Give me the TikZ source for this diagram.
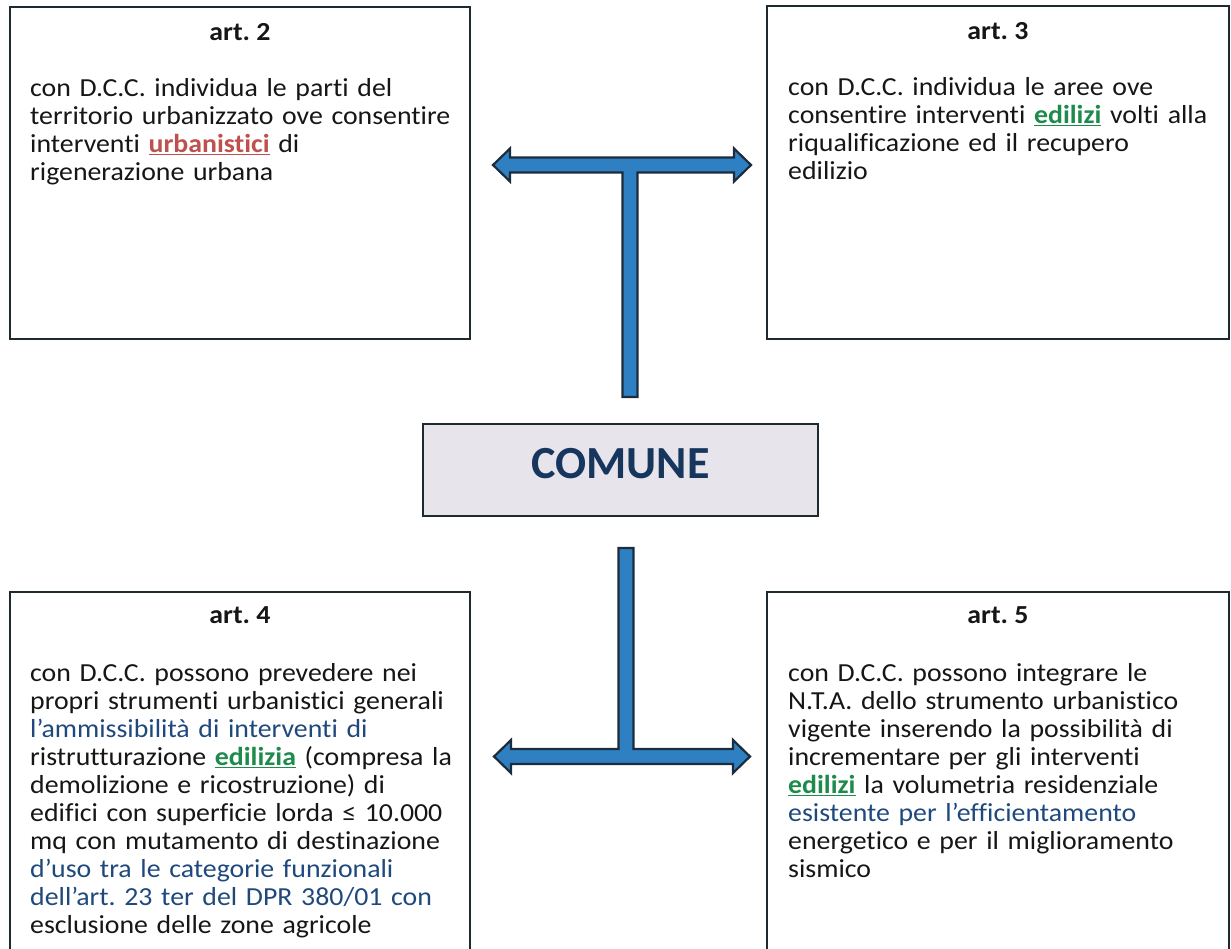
\documentclass[tikz,border=0pt]{standalone}
\usepackage{fontspec}
\setmainfont{Carlito}[Ligatures=NoCommon]
\newfontfamily\bodyfam{Carlito}[FakeStretch=1.07, Ligatures=NoCommon]
\usetikzlibrary{positioning}
\frenchspacing
\definecolor{boxline}{HTML}{1E2A30}
\definecolor{textblack}{HTML}{161616}
\definecolor{textblue}{HTML}{1F497D}
\definecolor{wordred}{HTML}{C0504D}
\definecolor{wordgreen}{HTML}{1E8A4C}
\definecolor{comunefill}{HTML}{E7E5EB}
\definecolor{comunetext}{HTML}{17365D}
\definecolor{teeblue}{HTML}{2E80C2}
\definecolor{teedark}{HTML}{1C2C3C}
\newcommand\bodyfont{\bodyfam\fontsize{26}{28}\selectfont}
\newcommand\rosso[1]{\textcolor{wordred}{\textbf{\underline{#1}}}}
\newcommand\verde[1]{\textcolor{wordgreen}{\textbf{\underline{#1}}}}
\newcommand\blu[1]{\textcolor{textblue}{#1}}
\tikzset{artbox/.style={draw=boxline, line width=1.6pt, rectangle, outer sep=0pt, inner sep=0pt},
        arttitle/.style={anchor=base, inner sep=0pt, font=\bodyfont\bfseries, text=textblack},
        arttext/.style={anchor=north west, inner sep=0pt, text width=440pt, align=left,
                        font=\bodyfont, text=textblack, execute at begin node=\strut},
        comunebox/.style={draw=boxline, line width=1.6pt, fill=comunefill, rectangle,
                          minimum width=395pt, minimum height=92pt, inner sep=0pt,
                          text height=30pt, text depth=14pt, text=comunetext,
                          font=\fontsize{46}{50}\selectfont\bfseries},
        tee/.style={draw=teedark, fill=teeblue, line width=2.2pt, line join=miter},
        }
\begin{document}
\begin{tikzpicture}[x=1pt,y=-1pt]
    \useasboundingbox (0,0) rectangle (1231,948);
    \clip (0,0) rectangle (1231,948);

    \node [artbox, minimum width=460pt, minimum height=332pt] (ART2) at (240,173) {};
    \node [artbox, minimum width=462pt, minimum height=333pt] (ART3) at (998,172.5) {};
    \node [artbox, minimum width=460pt, minimum height=368pt] (ART4) at (240,776) {};
    \node [artbox, minimum width=462pt, minimum height=368pt] (ART5) at (998,776) {};
    \node [comunebox] (COMUNE) at (620.5,470) {COMUNE};

    \node [arttitle] (T2) at ([shift={(0,33)}]ART2.north) {art. 2};
    \node [arttext] (B2) at ([shift={(20,69.4)}]ART2.north west) {%
 con D.C.C. individua le parti del\\
 territorio urbanizzato ove consentire\\
 interventi \rosso{urbanistici} di\\
 rigenerazione urbana};

    \node [arttitle] (T3) at ([shift={(0,33)}]ART3.north) {art. 3};
    \node [arttext] (B3) at ([shift={(21,69.4)}]ART3.north west) {%
 con D.C.C. individua le aree ove\\
 consentire interventi \verde{edilizi} volti alla\\
 riqualificazione ed il recupero\\
 edilizio};

    \node [arttitle] (T4) at ([shift={(0,31)}]ART4.north) {art. 4};
    \node [arttext] (B4) at ([shift={(20,69.4)}]ART4.north west) {%
 con D.C.C. possono prevedere nei\\
 propri strumenti urbanistici generali\\
 \blu{l’ammissibilità di interventi di}\\
 ristrutturazione \verde{edilizia} (compresa la\\
 demolizione e ricostruzione) di\\
 edifici con superficie lorda ≤ 10.000\\
 mq con mutamento di destinazione\\
 \blu{d’uso tra le categorie funzionali}\\
 \blu{dell’art. 23 ter del DPR 380/01 con}\\
 esclusione delle zone agricole};

    \node [arttitle] (T5) at ([shift={(0,31)}]ART5.north) {art. 5};
    \node [arttext] (B5) at ([shift={(21,69.4)}]ART5.north west) {%
 con D.C.C. possono integrare le\\
 N.T.A. dello strumento urbanistico\\
 vigente inserendo la possibilità di\\
 incrementare per gli interventi\\
 \verde{edilizi} la volumetria residenziale\\
 \blu{esistente per l’efficientamento}\\
 energetico e per il miglioramento\\
 sismico};

    \coordinate (topjoin) at (630,165);
    \coordinate (botjoin) at (626,756.5);

    \draw [tee] (topjoin) ++(-137,0) -- ++(17,-16.5) -- ++(0,9) -- ++(224,0) -- ++(0,-9)
        -- ++(17,16.5) -- ++(-17,16.5) -- ++(0,-9) -- ++(-96.5,0) -- ++(0,224.5)
        -- ++(-15,0) -- ++(0,-224.5) -- ++(-112.5,0) -- ++(0,9) -- cycle;

    \draw [tee] (botjoin) ++(-132,0) -- ++(17,-16.5) -- ++(0,9) -- ++(107.5,0) -- ++(0,-201)
        -- ++(15,0) -- ++(0,201) -- ++(99.5,0) -- ++(0,-9) -- ++(17,16.5) -- ++(-17,16.5)
        -- ++(0,-9) -- ++(-222,0) -- ++(0,9) -- cycle;

\end{tikzpicture}
\end{document}
